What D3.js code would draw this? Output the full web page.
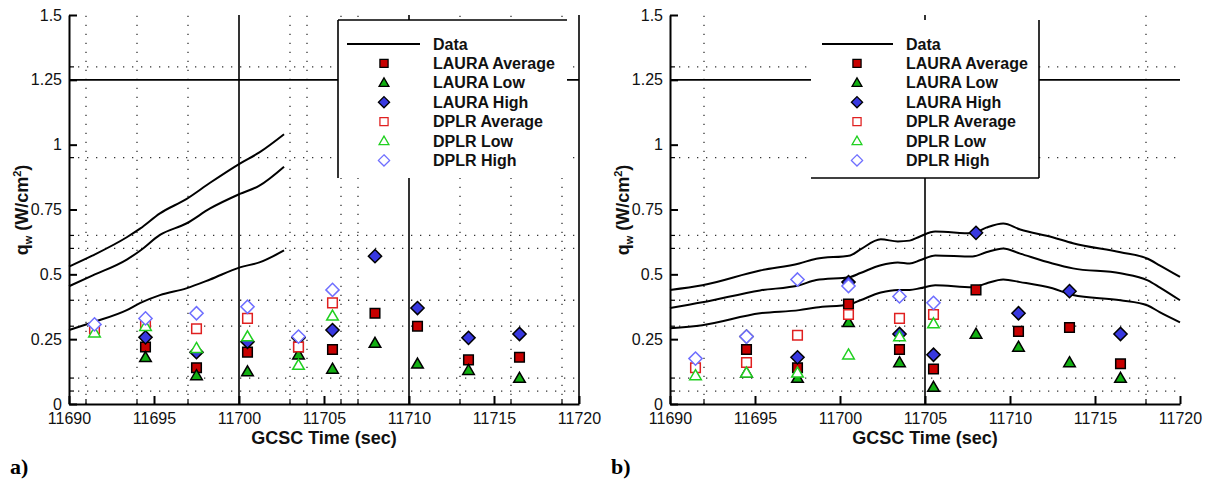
<!DOCTYPE html>
<html>
<head>
<meta charset="utf-8">
<script src="https://cdn.jsdelivr.net/npm/d3@7"></script>
<style>
  body { margin: 0; background: #fff; }
</style>
</head>
<body>
<script>
// ---- data ----
const timeTicks = [11690, 11695, 11700, 11705, 11710, 11715, 11720];
const qTicks = [0, 0.25, 0.5, 0.75, 1, 1.25, 1.5];
const qTickLabels = ["0", "0.25", "0.5", "0.75", "1", "1.25", "1.5"];
const seriesNames = ["Data", "LAURA Average", "LAURA Low", "LAURA High",
                     "DPLR Average", "DPLR Low", "DPLR High"];

// dotted grid / minor tick positions
const gridQ = [0.05, 0.1, 0.3, 0.4, 0.6, 0.65, 0.95, 1.3];
const aGridT = [11691, 11694, 11697, 11703, 11704, 11706, 11707, 11713, 11716, 11719];
const bGridT = [11692, 11718];
// solid reference lines
const solidQ = [1.25];
const aSolidT = [11700, 11710, 11720];
const bSolidT = [11705];

// times of the CFD points
const markerT = [11691.5, 11694.5, 11697.5, 11700.5, 11703.5, 11705.5, 11708, 11710.5, 11713.5, 11716.5];

// panel a)
const aCurveT  = [11690, 11691.4, 11693.4, 11694.2, 11695.35, 11696.9, 11698.3, 11700.05, 11701.2, 11702.65];
const aUpper   = [0.53, 0.573, 0.643, 0.677, 0.735, 0.79, 0.853, 0.927, 0.97, 1.04];
const aMiddle  = [0.454, 0.496, 0.557, 0.592, 0.652, 0.696, 0.754, 0.81, 0.842, 0.915];
const aLower   = [0.285, 0.315, 0.362, 0.39, 0.42, 0.446, 0.48, 0.527, 0.546, 0.592];
const aLauraAvg  = [null, 0.22, 0.14, 0.20, 0.22, 0.21, 0.35, 0.30, 0.17, 0.18];
const aLauraLow  = [null, 0.18, 0.11, 0.125, 0.19, 0.135, 0.235, 0.155, 0.13, 0.10];
const aLauraHigh = [null, 0.257, 0.20, 0.24, 0.255, 0.285, 0.57, 0.37, 0.255, 0.27];
const aDplrAvg   = [0.29, 0.31, 0.29, 0.33, 0.22, 0.39, null, null, null, null];
const aDplrLow   = [0.275, 0.30, 0.215, 0.26, 0.15, 0.34, null, null, null, null];
const aDplrHigh  = [0.307, 0.33, 0.35, 0.375, 0.26, 0.44, null, null, null, null];

// panel b)
const bCurveT = [11690, 11691.9, 11695.3, 11697.6, 11698.6, 11700.6, 11701.2, 11702.4, 11703.4, 11704.1, 11704.7,
                 11705.6, 11707.8, 11708.6, 11709.6, 11710.6, 11712.5, 11713.7, 11716.5, 11718.1, 11718.8, 11720];
const bUpper  = [0.44, 0.458, 0.515, 0.542, 0.56, 0.573, 0.596, 0.635, 0.627, 0.63, 0.646,
                 0.665, 0.658, 0.68, 0.696, 0.673, 0.643, 0.62, 0.585, 0.56, 0.535, 0.49];
const bMiddle = [0.37, 0.392, 0.438, 0.458, 0.478, 0.49, 0.505, 0.535, 0.546, 0.542, 0.554,
                 0.573, 0.569, 0.585, 0.6, 0.58, 0.542, 0.523, 0.504, 0.477, 0.45, 0.40];
const bLower  = [0.292, 0.304, 0.35, 0.362, 0.372, 0.385, 0.40, 0.43, 0.44, 0.44, 0.446,
                 0.458, 0.45, 0.465, 0.48, 0.47, 0.446, 0.42, 0.40, 0.38, 0.354, 0.315];
const bLauraAvg  = [null, 0.21, 0.14, 0.385, 0.21, 0.135, 0.44, 0.28, 0.295, 0.155];
const bLauraLow  = [null, 0.12, 0.10, 0.315, 0.16, 0.065, 0.27, 0.22, 0.16, 0.10];
const bLauraHigh = [null, 0.26, 0.18, 0.47, 0.27, 0.19, 0.66, 0.35, 0.435, 0.27];
const bDplrAvg   = [0.14, 0.16, 0.265, 0.345, 0.33, 0.345, null, null, null, null];
const bDplrLow   = [0.11, 0.12, 0.12, 0.19, 0.26, 0.31, null, null, null, null];
const bDplrHigh  = [0.175, 0.26, 0.48, 0.455, 0.415, 0.39, null, null, null, null];

// ---- styles ----
const sans = "'Liberation Sans', Arial, sans-serif";
const serif = "'Liberation Serif', 'Times New Roman', serif";

const markerStyle = [
  {shape: "square",   fill: "#c80000", stroke: "#000"},
  {shape: "triangle", fill: "#12b012", stroke: "#000"},
  {shape: "diamond",  fill: "#3838e0", stroke: "#000"},
  {shape: "square",   fill: "#fff", stroke: "#e02020"},
  {shape: "triangle", fill: "#fff", stroke: "#20d020"},
  {shape: "diamond",  fill: "#fff", stroke: "#6f6fff"}
];

function markerPath(shape) {
  if (shape === "square") return "M-4.8,-4.8h9.6v9.6h-9.6Z";
  if (shape === "triangle") return "M0,-5.8L5.8,4.2L-5.8,4.2Z";
  return "M0,-6.6L6.6,0L0,6.6L-6.6,0Z";
}

const svg = d3.select("body").append("svg")
  .attr("width", 1207)
  .attr("height", 482)
  .style("font-family", sans);

function drawPanel(p) {
  const x = d3.scaleLinear().domain([11690, 11720]).range([p.left, p.left + 510]);
  const y = d3.scaleLinear().domain([0, 1.5]).range([404, 15]);
  const g = svg.append("g");

  // dotted grid
  g.selectAll(".hgrid").data(gridQ).join("line")
    .attr("x1", x(11690)).attr("x2", x(11720))
    .attr("y1", d => y(d)).attr("y2", d => y(d))
    .attr("stroke", "#333").attr("stroke-width", 1.3)
    .attr("stroke-dasharray", "1.3,7.7");
  g.selectAll(".vgrid").data(p.gridT).join("line")
    .attr("x1", d => x(d)).attr("x2", d => x(d))
    .attr("y1", y(0)).attr("y2", y(1.5))
    .attr("stroke", "#333").attr("stroke-width", 1.3)
    .attr("stroke-dasharray", "1.3,7.7");

  // solid reference lines
  g.selectAll(".hsolid").data(solidQ).join("line")
    .attr("x1", x(11690)).attr("x2", x(11720))
    .attr("y1", d => y(d)).attr("y2", d => y(d))
    .attr("stroke", "#000").attr("stroke-width", 1.6);
  g.selectAll(".vsolid").data(p.solidT).join("line")
    .attr("x1", d => x(d)).attr("x2", d => x(d))
    .attr("y1", y(0)).attr("y2", y(1.5))
    .attr("stroke", "#000").attr("stroke-width", 1.6);

  // data curves
  const line = d3.line()
    .x((d, i) => x(p.curveT[i]))
    .y(d => y(d))
    .curve(d3.curveMonotoneX);
  g.selectAll(".curve").data(p.curves).join("path")
    .attr("d", line)
    .attr("fill", "none")
    .attr("stroke", "#000")
    .attr("stroke-width", 2);

  // CFD markers
  p.series.forEach((vals, si) => {
    const st = markerStyle[si];
    const pts = vals.map((v, i) => [markerT[i], v]).filter(d => d[1] !== null);
    g.selectAll(null).data(pts).join("path")
      .attr("transform", d => `translate(${x(d[0])},${y(d[1])})`)
      .attr("d", markerPath(st.shape))
      .attr("fill", st.fill)
      .attr("stroke", st.stroke)
      .attr("stroke-width", 1.5);
  });

  // legend
  const lg = p.legend;
  g.append("rect")
    .attr("x", lg.x0).attr("y", 20)
    .attr("width", lg.x1 - lg.x0).attr("height", 158)
    .attr("fill", "#fff");
  lg.borders.forEach(b => {
    g.append("line")
      .attr("x1", b[0]).attr("y1", b[1]).attr("x2", b[2]).attr("y2", b[3])
      .attr("stroke", "#000").attr("stroke-width", 1.6);
  });
  seriesNames.forEach((name, i) => {
    const ry = 44 + i * 19.4;
    if (i === 0) {
      g.append("line")
        .attr("x1", lg.lineX[0]).attr("x2", lg.lineX[1])
        .attr("y1", ry).attr("y2", ry)
        .attr("stroke", "#000").attr("stroke-width", 2);
    } else {
      const st = markerStyle[i - 1];
      g.append("path")
        .attr("transform", `translate(${lg.markX},${ry}) scale(0.85)`)
        .attr("d", markerPath(st.shape))
        .attr("fill", st.fill)
        .attr("stroke", st.stroke)
        .attr("stroke-width", 1.5);
    }
    g.append("text")
      .attr("x", lg.textX).attr("y", ry + 5.5)
      .style("font-size", "16px").style("font-weight", "bold")
      .attr("fill", "#111")
      .text(name);
  });

  // axes
  const yAxis = d3.axisLeft(y)
    .tickValues(qTicks)
    .tickFormat((d, i) => qTickLabels[i])
    .tickSizeInner(-8).tickSizeOuter(0).tickPadding(7);
  const ya = g.append("g").attr("transform", `translate(${x(11690)},0)`).call(yAxis);
  const xAxis = d3.axisBottom(x)
    .tickValues(timeTicks)
    .tickFormat(d3.format("d"))
    .tickSizeInner(-8).tickSizeOuter(0).tickPadding(9);
  const xa = g.append("g").attr("transform", `translate(0,${y(0)})`).call(xAxis);
  [ya, xa].forEach(a => {
    a.select(".domain").attr("stroke", "#000").attr("stroke-width", 2);
    a.selectAll(".tick line").attr("stroke", "#000").attr("stroke-width", 2);
    a.selectAll("text")
      .style("font-family", sans)
      .style("font-size", "16px").attr("fill", "#111");
  });

  // minor ticks
  g.selectAll(".ymin").data(gridQ).join("line")
    .attr("x1", x(11690)).attr("x2", x(11690) + 5)
    .attr("y1", d => y(d)).attr("y2", d => y(d))
    .attr("stroke", "#000").attr("stroke-width", 1.2);
  g.selectAll(".xmin").data(p.gridT).join("line")
    .attr("x1", d => x(d)).attr("x2", d => x(d))
    .attr("y1", y(0)).attr("y2", y(0) - 5)
    .attr("stroke", "#000").attr("stroke-width", 1.2);

  // axis titles
  g.append("text")
    .attr("x", x(11705)).attr("y", 444)
    .attr("text-anchor", "middle")
    .style("font-size", "18px").style("font-weight", "bold")
    .attr("fill", "#111")
    .text("GCSC Time (sec)");

  const yt = g.append("text")
    .attr("transform", `translate(${p.left - 41},210) rotate(-90)`)
    .attr("text-anchor", "middle")
    .style("font-size", "18px").style("font-weight", "bold")
    .attr("fill", "#111");
  yt.append("tspan").text("q");
  yt.append("tspan").style("font-size", "11px").attr("dy", 4).text("w");
  yt.append("tspan").attr("dy", -4).text(" (W/cm");
  yt.append("tspan").style("font-size", "11px").attr("dy", -7).text("2");
  yt.append("tspan").attr("dy", 7).text(")");

  svg.append("text")
    .attr("x", p.left - 59).attr("y", 474)
    .style("font-family", serif)
    .style("font-size", "22px").style("font-weight", "bold")
    .attr("fill", "#000")
    .text(p.tag);
}

function main() {
  drawPanel({
    left: 69, tag: "a)",
    gridT: aGridT, solidT: aSolidT,
    curveT: aCurveT, curves: [aUpper, aMiddle, aLower],
    series: [aLauraAvg, aLauraLow, aLauraHigh, aDplrAvg, aDplrLow, aDplrHigh],
    legend: {x0: 338, x1: 567, lineX: [347, 420], markX: 384, textX: 433,
             borders: [[338, 20, 567, 20], [338, 20, 338, 178]]}
  });
  drawPanel({
    left: 670, tag: "b)",
    gridT: bGridT, solidT: bSolidT,
    curveT: bCurveT, curves: [bUpper, bMiddle, bLower],
    series: [bLauraAvg, bLauraLow, bLauraHigh, bDplrAvg, bDplrLow, bDplrHigh],
    legend: {x0: 811, x1: 1039, lineX: [822, 893], markX: 857, textX: 906,
             borders: [[1039, 20, 1039, 178], [811, 178, 1039, 178]]}
  });
}

main();
</script>
</body>
</html>
